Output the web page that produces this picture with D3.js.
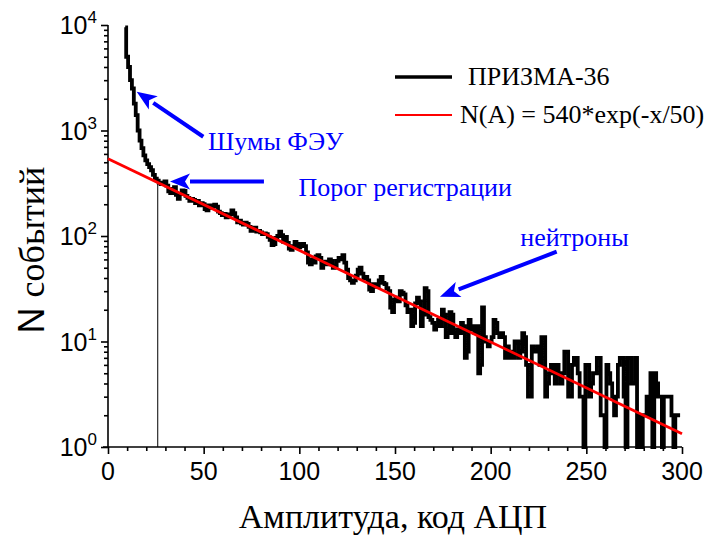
<!DOCTYPE html>
<html>
<head>
<meta charset="utf-8">
<script src="https://cdn.jsdelivr.net/npm/d3@7"></script>
<style>
  body { margin: 0; background: #fff; }
  svg text { fill: #000; }
</style>
</head>
<body>
<div id="chart"></div>
<script>
// Histogram counts, one value per ADC code starting at code 9
const firstCode = 9;
const counts = [
  9500, 5000, 4000, 3000, 2500, 1800, 1400, 1000, 800, 680,        // 9-18
  580, 520, 480, 450, 420, 380, 350, 335, 320, 310,                // 19-28
  320, 330, 300, 265, 255, 280, 290, 245, 225, 250,                // 29-38
  270, 268, 240, 230, 215, 225, 220, 205, 215, 195,                // 39-48
  205, 200, 180, 175, 195, 185, 190, 198, 190, 170,                // 49-58
  165, 158, 162, 150, 152, 160, 175, 165, 150, 135,                // 59-68
  140, 132, 128, 134, 130, 122, 112, 118, 120, 110,                // 69-78
  112, 108, 104, 106, 104, 98, 92, 82, 84, 96,                     // 79-88
  100, 110, 102, 88, 98, 86, 76, 74, 80, 88,                       // 89-98
  84, 78, 82, 84, 80, 70, 56, 54, 60, 56,                          // 99-108
  64, 66, 62, 50, 55, 57, 54, 60, 58, 50,                          // 109-118
  52, 58, 62, 60, 66, 56, 48, 40, 38, 36,                          // 119-128
  38, 42, 48, 50, 44, 40, 41, 38, 31, 30,                          // 129-138
  35, 34, 33, 38, 41, 36, 35, 32, 30, 21,                          // 139-148
  19, 25, 26, 24, 30, 29, 28, 22, 19, 20,                          // 149-158
  14, 15, 23, 26, 24, 14, 18, 32, 30, 17,                          // 159-168
  16, 15, 13, 14, 16, 14, 20, 18, 11, 12,                          // 169-178
  19, 18, 12, 11, 13, 12, 15, 14, 7, 8,                            // 179-188
  16, 13, 14, 12, 14, 5, 6, 21, 11, 10,                            // 189-198
  9, 10, 11, 16, 15, 12, 11, 12, 11, 7,                            // 199-208
  9, 7, 8, 7, 10, 10, 7, 8, 12, 11,                                // 209-218
  6, 3, 3, 9, 8, 8, 9, 6, 11, 11,                                  // 219-228
  3, 4, 5, 6, 5, 4, 6, 5, 4, 5,                                    // 229-238
  8, 8, 3, 3, 6, 7, 7, 5, 3, 3,                                    // 239-248
  0, 6, 6, 3, 4, 5, 5, 7, 7, 2,                                    // 249-258
  2, 0, 6, 5, 4, 3, 2, 3, 6, 7,                                    // 259-268
  7, 3, 0, 7, 7, 4, 4, 7, 0, 2,                                    // 269-278
  0, 2, 2, 3, 2, 5, 0, 5, 4, 3,                                    // 279-288
  3, 0, 3, 3, 3, 3, 2, 0, 2, 2,                                    // 289-298
  2                                                                 // 299
];

// Fit from the legend: N(A) = 540*exp(-x/50)
const fitN0 = 540, fitTau = 50;
const fitRange = [0, 300];

// Registration threshold (thin vertical line)
const thresholdCode = 26;
const thresholdTop = 340;

// Axis ticks
const xMajor = [0, 50, 100, 150, 200, 250, 300];
const yMajor = [1, 10, 100, 1000, 10000];
const yExp = ["0", "1", "2", "3", "4"];

// Annotations: [label, text x, text y, arrow from x, from y, arrow tip x, tip y] in data units
const notes = [
  ["Шумы ФЭУ", 52.3, 650, 49.8, 873, 15, 2330],
  ["Порог регистрации", 99.5, 238, 81.5, 329, 32.4, 329],
  ["нейтроны", 215.5, 80, 234.5, 71, 173.5, 26.6]
];

const width = 710, height = 536;
const serif = "'Liberation Serif', 'Times New Roman', serif";
const sans = "'Liberation Sans', Arial, sans-serif";

const svg = d3.select("#chart").append("svg")
  .attr("width", width)
  .attr("height", height);

const x = d3.scaleLinear().domain([0, 300]).range([108, 682]);
const y = d3.scaleLog().domain([1, 10000]).range([447, 25]).clamp(true);

// Axes
const xAxisG = svg.append("g").attr("transform", `translate(0,${y(1)})`);
xAxisG.call(d3.axisBottom(x).tickValues(d3.range(0, 301, 10)).tickSize(4).tickFormat(""));
xAxisG.call(g => g.selectAll(".tick").filter(d => d % 50 === 0).select("line").attr("y2", 7));
xAxisG.select(".domain").attr("d", `M${x(0) - 5},0H${x(300)}`);

const yMinor = [];
yMajor.slice(0, -1).forEach(m => { for (let k = 2; k <= 9; k++) yMinor.push(m * k); });
const yAxisG = svg.append("g").attr("transform", `translate(${x(0)},0)`);
yAxisG.call(d3.axisLeft(y).tickValues(yMajor.concat(yMinor)).tickSize(4).tickFormat(""));
yAxisG.call(g => g.selectAll(".tick").filter(d => yMajor.includes(d)).select("line").attr("x2", -7));
yAxisG.select(".domain").attr("d", `M0,${y(1)}V${y(10000)}`);

svg.selectAll(".domain, .tick line").attr("stroke", "#000").attr("stroke-width", 1.6);

// Tick labels
svg.append("g").selectAll("text").data(xMajor).join("text")
  .attr("x", d => x(d)).attr("y", 480)
  .attr("text-anchor", "middle")
  .style("font-family", sans).style("font-size", "25px")
  .text(d => d);

const yl = svg.append("g").selectAll("text").data(yMajor).join("text")
  .attr("x", 97).attr("y", d => y(d) + 9)
  .attr("text-anchor", "end")
  .style("font-family", sans).style("font-size", "25px");
yl.append("tspan").text("10");
yl.append("tspan").attr("dy", -11).style("font-size", "17px").text((d, i) => yExp[i]);

// Axis titles
svg.append("text")
  .attr("x", x(150) - 2).attr("y", 528)
  .attr("text-anchor", "middle")
  .style("font-family", serif).style("font-size", "34px")
  .text("Амплитуда, код АЦП");

const yt = svg.append("text")
  .attr("transform", "translate(44,250) rotate(-90)")
  .attr("text-anchor", "middle")
  .style("font-size", "36px");
yt.append("tspan").style("font-family", sans).text("N ");
yt.append("tspan").style("font-family", serif).text("событий");

// Data
const data = counts.map((v, i) => ({ a: firstCode + i, n: v }));

svg.append("line")
  .attr("x1", x(thresholdCode)).attr("x2", x(thresholdCode))
  .attr("y1", y(1)).attr("y2", y(thresholdTop))
  .attr("stroke", "#000").attr("stroke-width", 1);

svg.append("path")
  .datum(data)
  .attr("fill", "none")
  .attr("stroke", "#000")
  .attr("stroke-width", 3.8)
  .attr("stroke-linejoin", "miter")
  .attr("d", d3.line().curve(d3.curveStep)
    .x(d => x(d.a))
    .y(d => y(Math.max(d.n, 1))));

const fitLine = fitRange.map(a => ({ a, n: fitN0 * Math.exp(-a / fitTau) }));
svg.append("path")
  .datum(fitLine)
  .attr("fill", "none")
  .attr("stroke", "#ff0000")
  .attr("stroke-width", 2.8)
  .attr("d", d3.line().x(d => x(d.a)).y(d => y(d.n)));

// Annotations with blue arrows
const blue = "#0000ff";
function arrow(x1, y1, x2, y2) {
  const ang = Math.atan2(y2 - y1, x2 - x1);
  const len = 20, half = 8;
  const bx = x2 - len * Math.cos(ang), by = y2 - len * Math.sin(ang);
  svg.append("line")
    .attr("x1", x1).attr("y1", y1).attr("x2", bx).attr("y2", by)
    .attr("stroke", blue).attr("stroke-width", 4);
  const px = -Math.sin(ang) * half, py = Math.cos(ang) * half;
  svg.append("path")
    .attr("d", `M${x2},${y2}L${bx + px},${by + py}L${bx + len * 0.25 * Math.cos(ang)},${by + len * 0.25 * Math.sin(ang)}L${bx - px},${by - py}Z`)
    .attr("fill", blue);
}
notes.forEach(([label, tx, ty, fx, fy, ax, ay]) => {
  arrow(x(fx), y(fy), x(ax), y(ay));
  svg.append("text")
    .attr("x", x(tx)).attr("y", y(ty))
    .style("font-family", serif).style("font-size", "26px")
    .style("fill", blue)
    .text(label);
});

// Legend
const legend = [
  { label: "ПРИЗМА-36", color: "#000", w: 3.4, tx: 468, yy: 77 },
  { label: "N(A) = 540*exp(-x/50)", color: "#ff0000", w: 2, tx: 460, yy: 115 }
];
const lg = svg.append("g").selectAll("g").data(legend).join("g");
lg.append("line")
  .attr("x1", 395).attr("x2", 452)
  .attr("y1", d => d.yy).attr("y2", d => d.yy)
  .attr("stroke", d => d.color).attr("stroke-width", d => d.w);
lg.append("text")
  .attr("x", d => d.tx).attr("y", d => d.yy + 8)
  .style("font-family", serif).style("font-size", "26px")
  .text(d => d.label);
</script>
</body>
</html>
